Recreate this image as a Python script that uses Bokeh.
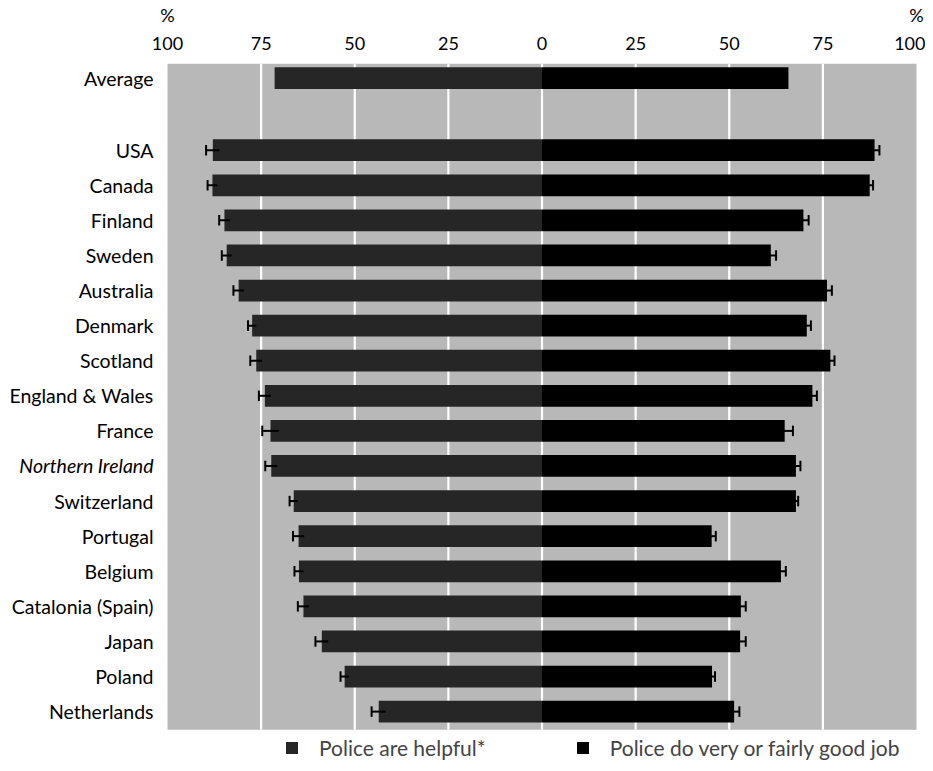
from bokeh.plotting import figure
from bokeh.models import (ColumnDataSource, Range1d, FixedTicker, Legend, LegendItem,
                          LinearAxis)
from bokeh.core.properties import value
from bokeh.embed import file_html
from bokeh.resources import INLINE

# ---------------- data ----------------
countries = ["USA", "Canada", "Finland", "Sweden", "Australia", "Denmark", "Scotland",
             "England & Wales", "France", "Northern Ireland", "Switzerland", "Portugal",
             "Belgium", "Catalonia (Spain)", "Japan", "Poland", "Netherlands"]
helpful = [87.9, 88.0, 84.8, 84.2, 81.0, 77.4, 76.3, 74.0, 72.5, 72.3, 66.3, 65.0,
           64.9, 63.7, 58.8, 52.7, 43.6]
helpful_err = [1.8, 1.3, 1.4, 1.3, 1.4, 1.1, 1.6, 1.6, 2.2, 1.6, 1.1, 1.5, 1.2, 1.5,
               1.7, 1.1, 1.9]
goodjob = [88.8, 87.5, 69.8, 61.1, 76.1, 70.7, 77.0, 72.2, 64.8, 67.8, 67.8, 45.3,
           63.8, 53.1, 52.9, 45.4, 51.3]
goodjob_err = [1.3, 0.9, 1.4, 1.4, 1.3, 1.1, 1.1, 1.2, 2.2, 1.2, 0.6, 1.1, 1.3, 1.3,
               1.5, 0.8, 1.4]
avg_label = "Average"
avg_helpful = 71.4
avg_goodjob = 65.8
tick_values = [-100, -75, -50, -25, 0, 25, 50, 75, 100]
grid_values = [-75, -50, -25, 0, 25, 50, 75]
unit_label = "%"
series_names = ["Police are helpful*", "Police do very or fairly good job"]

# ---------------- layout helpers ----------------
FONT = "Lato"
FS_TICK = "18px"
FS_CAT = "19.5px"
ys = list(range(len(countries)))
avg_y = -2.05
labels_all = [avg_label] + countries
y_all = [avg_y] + ys
help_all = [avg_helpful] + helpful
good_all = [avg_goodjob] + goodjob

Y_TOP = -2.47
Y_BOT = 17.45
BG_TOP = -2.47
BG_BOT = 16.52
CAP = 0.15

p = figure(width=925, height=762, output_backend="svg", toolbar_location=None,
           x_range=Range1d(-142.46, 102.4), y_range=Range1d(Y_BOT, Y_TOP),
           x_axis_location="above", y_axis_location=None,
           min_border_left=8, min_border_right=0, min_border_top=61, min_border_bottom=0)
p.outline_line_color = None
p.background_fill_color = "white"
p.border_fill_color = "white"
p.xgrid.visible = False
p.ygrid.visible = False


def style_axis(ax, standoff):
    ax.axis_line_color = None
    ax.major_tick_line_color = None
    ax.minor_tick_line_color = None
    ax.major_label_standoff = standoff
    ax.major_label_text_font = FONT
    ax.major_label_text_font_size = FS_TICK
    ax.major_label_text_color = "black"


ax = p.xaxis[0]
ax.ticker = FixedTicker(ticks=tick_values)
ax.major_label_overrides = {t: str(abs(t)) for t in tick_values}
style_axis(ax, 8)

ends = [tick_values[0], tick_values[-1]]
ax2 = LinearAxis(ticker=FixedTicker(ticks=ends),
                 major_label_overrides={t: unit_label for t in ends})
style_axis(ax2, 2)
p.add_layout(ax2, "above")

# background panel
p.quad(left=[tick_values[0]], right=[tick_values[-1]], top=[BG_TOP], bottom=[BG_BOT],
       fill_color="#b8b8b8", line_color=None)
# white gridlines
p.segment(x0=grid_values, x1=grid_values, y0=[BG_TOP] * len(grid_values),
          y1=[BG_BOT] * len(grid_values), line_color="white", line_width=2.2)

src = ColumnDataSource(dict(y=y_all, neg=[-v for v in help_all], pos=good_all,
                            zero=[0] * len(y_all)))
BH = 0.62
r_help = p.hbar(y="y", left="neg", right="zero", height=BH, source=src,
                fill_color="#262626", line_color=None)
r_good = p.hbar(y="y", left="zero", right="pos", height=BH, source=src,
                fill_color="black", line_color=None)

# error bars (countries only): stem plus cap at the outer end
h_lo = [-(v + e) for v, e in zip(helpful, helpful_err)]
h_hi = [-(v - e) for v, e in zip(helpful, helpful_err)]
g_lo = [v - e for v, e in zip(goodjob, goodjob_err)]
g_hi = [v + e for v, e in zip(goodjob, goodjob_err)]
for lo, hi, outer in ((h_lo, h_hi, h_lo), (g_lo, g_hi, g_hi)):
    p.segment(x0=lo, x1=hi, y0=ys, y1=ys, line_color="black", line_width=2)
    p.segment(x0=outer, x1=outer,
              y0=[y - CAP for y in ys], y1=[y + CAP for y in ys],
              line_color="black", line_width=2)

# category labels
normal_idx = [i for i, c in enumerate(labels_all) if c != "Northern Ireland"]
ital_idx = [i for i, c in enumerate(labels_all) if c == "Northern Ireland"]
for idx, style in ((normal_idx, "normal"), (ital_idx, "italic")):
    lsrc = ColumnDataSource(dict(x=[tick_values[0]] * len(idx),
                                 y=[y_all[i] for i in idx],
                                 t=[labels_all[i] for i in idx]))
    p.text(x="x", y="y", text="t", source=lsrc, x_offset=-14, text_align="right",
           text_baseline="middle", text_font=value(FONT), text_font_size=FS_CAT,
           text_font_style=style, text_color="black")

legend = Legend(items=[LegendItem(label=series_names[0], renderers=[r_help]),
                       LegendItem(label=series_names[1], renderers=[r_good])],
                orientation="horizontal", location=(276, 2),
                background_fill_alpha=0, border_line_color=None,
                padding=0, margin=0, spacing=89,
                glyph_width=15, glyph_height=15, label_standoff=20, label_height=16,
                label_text_font=FONT, label_text_font_size="21px",
                label_text_baseline="middle")
p.add_layout(legend)

open("out.html", "w").write(file_html(p, INLINE))
